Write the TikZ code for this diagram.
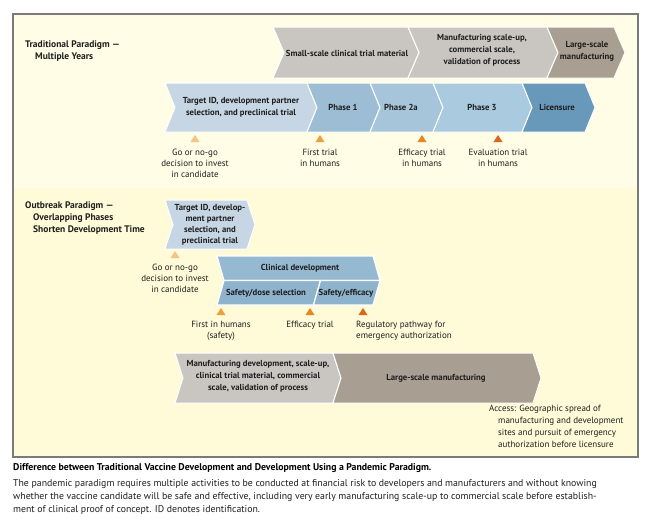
\documentclass[tikz,border=0pt]{standalone}
\usepackage{fontspec}
\setmainfont{PT Sans}
\definecolor{bgTop}{HTML}{FFFDE6}
\definecolor{bgBot}{HTML}{FFFBD8}
\definecolor{framec}{HTML}{7A7A7A}
\definecolor{grayA}{HTML}{C9C6C1}
\definecolor{taupe}{HTML}{A89E91}
\definecolor{tidc}{HTML}{C6D6E4}
\definecolor{ph1}{HTML}{9CBDD4}
\definecolor{ph2}{HTML}{A6C5DA}
\definecolor{ph3}{HTML}{AACADF}
\definecolor{lic}{HTML}{6898BA}
\definecolor{clin}{HTML}{96B9D2}
\definecolor{clinlow}{HTML}{8EB3CD}
\definecolor{triA}{HTML}{F7C284}
\definecolor{triB}{HTML}{EFA039}
\definecolor{triC}{HTML}{E6861F}
\definecolor{triD}{HTML}{DC661B}
\definecolor{txt}{HTML}{1E1E1E}
\newcommand\chev[6]{%
  \path[fill=#1,draw=white,line width=1pt] (#2,-#4) -- (#3,-#4) -- ({#3+#6},{-(#4+#5)/2}) -- (#3,-#5) -- (#2,-#5) -- ({#2+#6},{-(#4+#5)/2}) -- cycle;}
\newcommand\tri[3]{%
  \fill[#1] ({#2-4.5},{-(#3+7)}) -- ({#2+4.5},{-(#3+7)}) -- (#2,-#3) -- cycle;}
\tikzset{
  boxt/.style={font=\bfseries\fontsize{8.7}{11.8}\selectfont, align=center, inner sep=0pt, text=txt},
  lbl/.style={font=\fontsize{9}{11}\selectfont, align=center, inner sep=0pt, text=txt},
  hdr/.style={font=\bfseries\fontsize{9.5}{11.7}\selectfont, align=left, inner sep=0pt, text=txt},
}
\begin{document}
\begin{tikzpicture}[x=1pt,y=1pt]
\useasboundingbox (0,0) rectangle (650,-528);
\fill[white] (0,0) rectangle (650,-528);
\fill[bgTop] (13,-14) rectangle (638,-188);
\fill[bgBot] (13,-188) rectangle (638,-457);
\draw[framec, line width=1.2pt] (13,-14) rectangle (638,-457);

% headers
\node[hdr, anchor=north west] (h1) at (25,-41) {Traditional Paradigm —\\\hspace*{10pt}Multiple Years};
\node[hdr, anchor=north west] (h2) at (25,-202) {Outbreak Paradigm —\\\hspace*{8pt}Overlapping Phases\\\hspace*{8pt}Shorten Development Time};

% traditional: top gray row
\chev{grayA}{273}{408}{27}{78}{11}
\chev{grayA}{408}{547}{27}{78}{11}
\chev{taupe}{547}{614}{27}{78}{11}
\node[boxt] (ss) at (347,-53) {Small-scale clinical trial material};
\node[boxt] (ms) at (482,-50) {Manufacturing scale-up,\\commercial scale,\\validation of process};
\node[boxt] (ls) at (587,-51) {Large-scale\\manufacturing};

% traditional: blue row
\chev{tidc}{165}{307}{83}{132}{10}
\chev{ph1}{307}{370}{83}{132}{10}
\chev{ph2}{370}{433}{83}{132}{10}
\chev{ph3}{433}{522}{83}{132}{10}
\chev{lic}{522}{585}{83}{132}{10}
\node[boxt] (tid) at (241,-107) {Target ID, development partner\\selection, and preclinical trial};
\node[boxt] (p1) at (343,-107.5) {Phase 1};
\node[boxt] (p2a) at (401,-107.5) {Phase 2a};
\node[boxt] (p3) at (482,-107.5) {Phase 3};
\node[boxt] (lcs) at (557,-107.5) {Licensure};

% traditional: markers
\tri{triA}{195}{135}
\tri{triB}{320}{135}
\tri{triC}{422}{135}
\tri{triD}{498}{135}
\node[lbl] (go1) at (195,-163) {Go or no-go\\decision to invest\\in candidate};
\node[lbl] (ft) at (320,-157.5) {First trial\\in humans};
\node[lbl] (eft1) at (422,-157.5) {Efficacy trial\\in humans};
\node[lbl] (evt) at (498,-157.5) {Evaluation trial\\in humans};

% outbreak
\chev{tidc}{165}{247}{200}{249}{8}
\node[boxt, font=\bfseries\fontsize{8.7}{11}\selectfont] (tid2) at (210,-224.5) {Target ID, develop-\\ment partner\\selection, and\\preclinical trial};
\tri{triA}{175}{251}
\node[lbl] (go2) at (175,-278) {Go or no-go\\decision to invest\\in candidate};

\path[fill=clin,draw=white,line width=1.2pt] (217,-256) -- (373,-256) -- (380,-280.5) -- (224,-280.5) -- cycle;
\path[fill=clinlow,draw=white,line width=1.2pt] (224,-280.5) -- (320.5,-280.5) -- (313.5,-305) -- (217,-305) -- cycle;
\path[fill=clinlow,draw=white,line width=1.2pt] (320.5,-280.5) -- (380,-280.5) -- (373,-305) -- (313.5,-305) -- cycle;
\node[boxt] (cd) at (300,-268) {Clinical development};
\node[boxt] (sds) at (266,-293) {Safety/dose selection};
\node[boxt] (sef) at (346,-293) {Safety/efficacy};

\tri{triB}{221}{308}
\tri{triC}{310}{308}
\tri{triD}{363}{308}
\node[lbl] (fih) at (221,-330.5) {First in humans\\(safety)};
\node[lbl] (eft2) at (310,-325) {Efficacy trial};
\node[lbl, anchor=west, align=left] (reg) at (356,-330.5) {Regulatory pathway for\\emergency authorization};

\chev{grayA}{175}{333}{353}{403}{8}
\chev{taupe}{333}{533}{353}{403}{8}
\node[boxt] (md) at (258,-376.5) {Manufacturing development, scale-up,\\clinical trial material, commercial\\scale, validation of process};
\node[boxt] (lsm) at (436,-378) {Large-scale manufacturing};
\node[lbl, anchor=north west, align=left, font=\fontsize{9}{12}\selectfont] (acc) at (489,-405) {Access: Geographic spread of\\\hspace*{9pt}manufacturing and development\\\hspace*{9pt}sites and pursuit of emergency\\\hspace*{9pt}authorization before licensure};

% caption
\node[anchor=north west, inner sep=0pt, text=black, font=\bfseries\fontsize{9.8}{12}\selectfont] (capt) at (13,-463) {Difference between Traditional Vaccine Development and Development Using a Pandemic Paradigm.};
\node[anchor=north west, inner sep=0pt, align=left, text=txt, font=\fontsize{9.8}{13}\selectfont] (capb) at (13,-479) {The pandemic paradigm requires multiple activities to be conducted at financial risk to developers and manufacturers and without knowing\\whether the vaccine candidate will be safe and effective, including very early manufacturing scale-up to commercial scale before establish-\\ment of clinical proof of concept. ID denotes identification.};
\end{tikzpicture}
\end{document}
